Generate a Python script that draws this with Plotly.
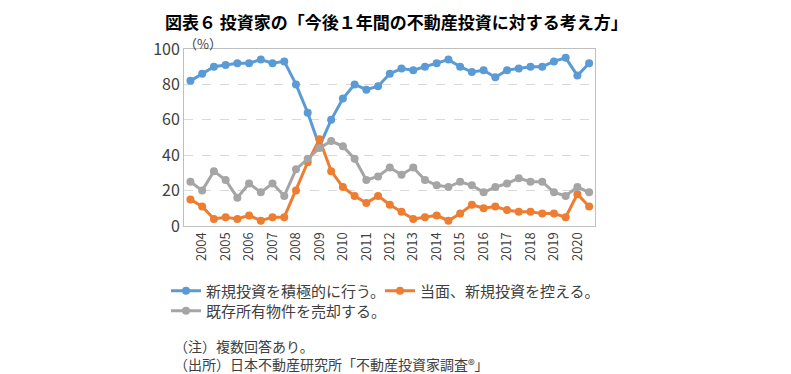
import plotly.graph_objects as go

periods = ["2003-10", "2004-04", "2004-10", "2005-04", "2005-10", "2006-04", "2006-10",
           "2007-04", "2007-10", "2008-04", "2008-10", "2009-04", "2009-10", "2010-04",
           "2010-10", "2011-04", "2011-10", "2012-04", "2012-10", "2013-04", "2013-10",
           "2014-04", "2014-10", "2015-04", "2015-10", "2016-04", "2016-10", "2017-04",
           "2017-10", "2018-04", "2018-10", "2019-04", "2019-10", "2020-04", "2020-10"]
year_ticks = ["2004-04", "2005-04", "2006-04", "2007-04", "2008-04", "2009-04", "2010-04",
              "2011-04", "2012-04", "2013-04", "2014-04", "2015-04", "2016-04", "2017-04",
              "2018-04", "2019-04", "2020-04"]
year_labels = ["2004", "2005", "2006", "2007", "2008", "2009", "2010", "2011", "2012",
               "2013", "2014", "2015", "2016", "2017", "2018", "2019", "2020"]

invest_active = [82, 86, 90, 91, 92, 92, 94, 92, 93, 80, 64, 45, 60, 72, 80, 77, 79, 86,
                 89, 88, 90, 92, 94, 90, 87, 88, 84, 88, 89, 90, 90, 93, 95, 85, 92]
invest_hold = [15, 11, 4, 5, 4, 6, 3, 5, 5, 20, 36, 49, 31, 22, 17, 13, 17, 12, 8, 4, 5,
               6, 3, 7, 12, 10, 11, 9, 8, 8, 7, 7, 5, 18, 11]
sell_owned = [25, 20, 31, 26, 16, 24, 19, 24, 17, 32, 38, 44, 48, 45, 38, 26, 28, 33, 29,
              33, 26, 23, 22, 25, 23, 19, 22, 24, 27, 25, 25, 19, 17, 22, 19]

series_names = ["新規投資を積極的に行う。", "当面、新規投資を控える。", "既存所有物件を売却する。"]
series_values = [invest_active, invest_hold, sell_owned]
series_colors = ["#5B9BD5", "#ED7D31", "#A5A5A5"]
series_legends = ["legend", "legend2", "legend3"]

title_text = "図表６ 投資家の「今後１年間の不動産投資に対する考え方」"
unit_text = "（%）"
note_lines = ["（注）複数回答あり。", "（出所）日本不動産研究所「不動産投資家調査®」"]

FONT = "Noto Sans CJK JP"
OFF = 8  # page body margin of the browser
W, H = 791 - OFF, 374 - OFF
PL, PT, PW, PH = 184 - OFF, 49 - OFF, 411, 177  # plot area in figure pixels


def px(x):
    """screen x -> paper x"""
    return (x - OFF - PL) / PW


def py(y):
    """screen y -> paper y"""
    return (PT + PH - (y - OFF)) / PH


fig = go.Figure()
for name, vals, col, lg in zip(series_names, series_values, series_colors, series_legends):
    fig.add_trace(go.Scatter(
        x=periods, y=vals, name=name, mode="lines+markers",
        line=dict(color=col, width=3),
        marker=dict(color=col, size=8),
        legend=lg,
    ))

legend_common = dict(
    orientation="h", xanchor="left", yanchor="middle",
    font=dict(size=15, color="#404040", family=FONT),
    itemwidth=30, bgcolor="rgba(0,0,0,0)",
)

fig.update_layout(
    width=W, height=H,
    margin=dict(l=PL, r=W - PL - PW, t=PT, b=H - PT - PH, autoexpand=False),
    paper_bgcolor="white", plot_bgcolor="white",
    font=dict(family=FONT, color="#404040"),
    showlegend=True,
    legend=dict(x=px(166), y=py(291), **legend_common),
    legend2=dict(x=px(380), y=py(291), **legend_common),
    legend3=dict(x=px(166), y=py(311), **legend_common),
)

fig.add_annotation(text="<b>" + title_text + "</b>", xref="paper", yref="paper",
                   x=px(396), y=py(OFF), xanchor="center", yanchor="top", borderpad=0,
                   showarrow=False, font=dict(size=17, color="#000000", family=FONT))
fig.add_annotation(text=unit_text, xref="paper", yref="paper",
                   x=px(203), y=py(43), xanchor="center", yanchor="middle", borderpad=0,
                   showarrow=False, font=dict(size=13, color="#404040", family=FONT))
for i, line in enumerate(note_lines):
    fig.add_annotation(text=line, xref="paper", yref="paper",
                       x=px(172), y=py(346 + 18 * i),
                       xanchor="left", yanchor="middle", showarrow=False,
                       font=dict(size=14, color="#404040", family=FONT))

fig.update_xaxes(
    type="category", categoryorder="array", categoryarray=periods,
    range=[-0.55, 34.5],
    tickmode="array", tickvals=year_ticks, ticktext=year_labels,
    tickangle=-90, tickfont=dict(size=13, color="#404040", family=FONT),
    showgrid=False, showline=True, linecolor="#BFBFBF", linewidth=1, mirror=True,
    ticks="", zeroline=False,
)
fig.update_yaxes(
    range=[0, 100], tickvals=[0, 20, 40, 60, 80, 100],
    tickfont=dict(size=16, color="#404040", family=FONT),
    showgrid=True, gridcolor="#D9D9D9", griddash="dash", gridwidth=1,
    showline=True, linecolor="#BFBFBF", linewidth=1, mirror=True,
    zeroline=False, ticks="", ticklen=0,
)

fig.write_html("out.html")
